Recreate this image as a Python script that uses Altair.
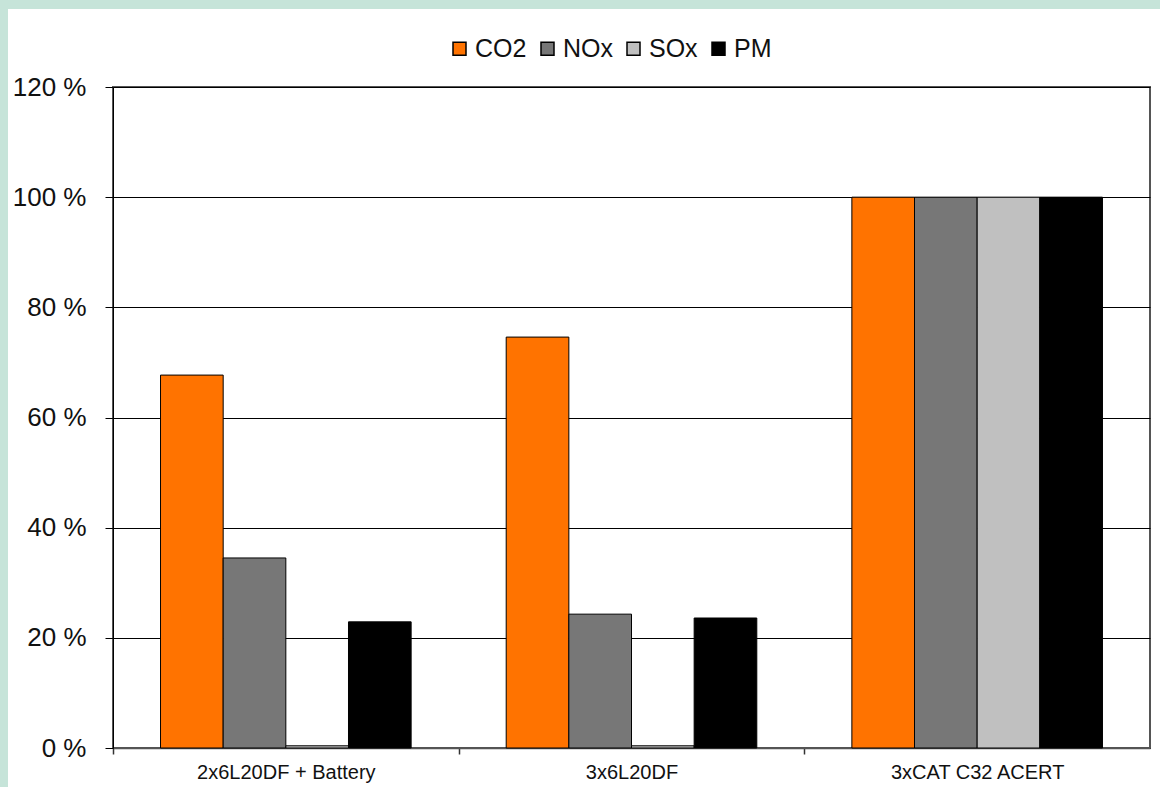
import altair as alt
import pandas as pd

# Relative emissions per machinery configuration (% of the 3xCAT C32 ACERT baseline)
categories = ["2x6L20DF + Battery", "3x6L20DF", "3xCAT C32 ACERT"]
pollutants = ["CO2", "NOx", "SOx", "PM"]
co2 = [67.7, 74.6, 100]
nox = [34.5, 24.3, 100]
sox = [0.4, 0.4, 100]
pm = [22.9, 23.6, 100]
colors = ["#ff7300", "#777777", "#c0c0c0", "#000000"]
y_ticks = [0, 20, 40, 60, 80, 100, 120]

series = dict(zip(pollutants, [co2, nox, sox, pm]))
rows = [
    {"config": c, "pollutant": p, "value": series[p][i]}
    for i, c in enumerate(categories)
    for p in pollutants
]
df = pd.DataFrame(rows)

W, H = 1037, 661
FONT = "Liberation Sans"
MINT = "#c6e4d9"
HALF_STEP = W / len(categories) / 2  # shift ticks from band centres to band edges

bars = alt.Chart(df).mark_bar(stroke="#000000", strokeWidth=1).encode(
    x=alt.X(
        "config:N",
        sort=categories,
        scale=alt.Scale(paddingInner=0.275, paddingOuter=0.1375),
        axis=alt.Axis(
            title=None,
            labelAngle=0,
            labelFontSize=20,
            labelColor="#111111",
            labelPadding=8,
            ticks=True,
            tickOffset=-HALF_STEP,
            labelOffset=HALF_STEP,
            tickExtra=True,
            tickSize=6,
            tickWidth=1.5,
            tickColor="#333333",
            tickOpacity=1,
            domainColor="#555555",
            domainWidth=1.5,
            grid=False,
        ),
    ),
    xOffset=alt.XOffset(
        "pollutant:N",
        sort=pollutants,
        scale=alt.Scale(paddingInner=0, paddingOuter=0),
    ),
    y=alt.Y(
        "value:Q",
        scale=alt.Scale(domain=[0, 120], nice=False),
        axis=alt.Axis(
            title=None,
            values=y_ticks,
            labelExpr="datum.value + ' %'",
            labelFontSize=26,
            labelColor="#111111",
            labelPadding=19,
            tickSize=8,
            tickColor="#000000",
            domainColor="#000000",
            grid=True,
            gridColor="#000000",
            gridWidth=1,
            gridOpacity=1,
        ),
    ),
    color=alt.Color(
        "pollutant:N",
        sort=pollutants,
        scale=alt.Scale(domain=pollutants, range=colors),
        legend=alt.Legend(
            title=None,
            orient="none",
            direction="horizontal",
            legendX=334,
            legendY=-51,
            symbolType="square",
            symbolSize=169,
            symbolStrokeColor="#000000",
            symbolStrokeWidth=1.5,
            symbolOpacity=1,
            labelFontSize=25,
            labelColor="#111111",
            labelOffset=3,
            columnPadding=8,
            padding=0,
        ),
    ),
)

# Mint-coloured frame strips along the left and top edges
frame = pd.DataFrame(
    [
        {"x0": -113, "x1": -105, "y0": -87, "y1": H + 39},
        {"x0": -113, "x1": W + 10, "y0": -87, "y1": -78},
    ]
)
strips = alt.Chart(frame).mark_rect(color=MINT).encode(
    x=alt.X("x0:Q", scale=None),
    x2="x1:Q",
    y=alt.Y("y0:Q", scale=None),
    y2="y1:Q",
)

chart = (
    alt.layer(strips, bars)
    .properties(
        width=W,
        height=H,
        autosize=alt.AutoSizeParams(type="none"),
        padding={"left": 113, "top": 87, "right": 10, "bottom": 39},
        background="#ffffff",
    )
    .configure_view(stroke="#555555", strokeWidth=2)
    .configure_axis(labelFont=FONT)
    .configure_legend(labelFont=FONT)
)

chart.save("out.html", embed_options={"renderer": "svg", "actions": False})
